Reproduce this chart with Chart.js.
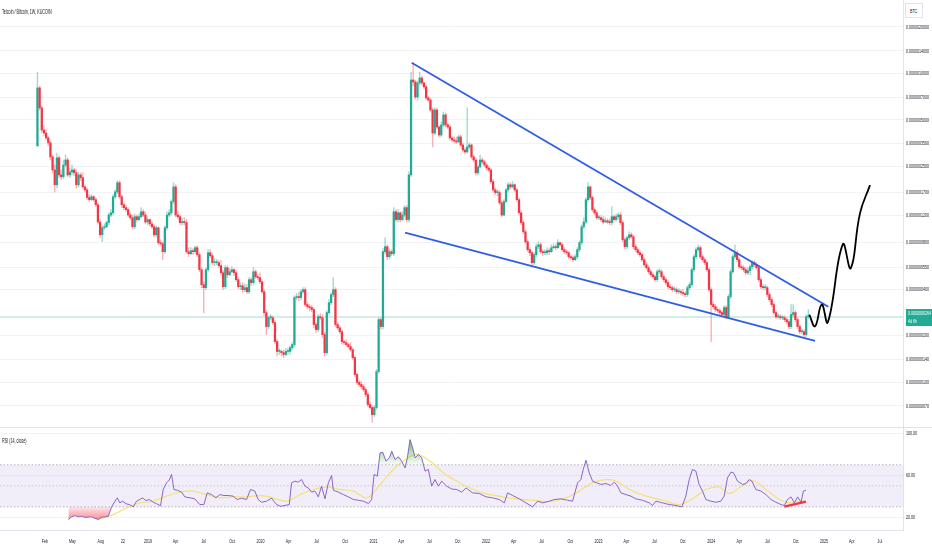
<!DOCTYPE html>
<html>
<head>
<meta charset="utf-8">
<title>Telcoin / Bitcoin, 1W, KUCOIN</title>
<script src="https://cdn.jsdelivr.net/npm/chart.js@4.4.1/dist/chart.umd.min.js"></script>
<style>
  html, body { margin: 0; padding: 0; background: #fff; }
  #wrap { position: relative; width: 932px; height: 550px; overflow: hidden;
          font-family: 'Liberation Sans', sans-serif; color: #131722; }
  #priceBox { position: absolute; left: 0; top: 0; width: 932px; height: 428px; }
  #rsiBox { position: absolute; left: 0; top: 428px; width: 932px; height: 122px; }
  #sep { position: absolute; left: 0; top: 427px; width: 932px; height: 1px; background: #e0e3eb; }
  .lbl { position: absolute; font-size: 6.5px; white-space: nowrap; transform: scaleX(0.57); transform-origin: 0 50%; }
  #btc { position: absolute; left: 905px; top: 3px; width: 16px; height: 13px; border: 1px solid #e0e3eb; background: #fff; }
  #btc span { position: absolute; left: 4px; top: 4px; font-size: 6px; line-height: 6px; transform: scaleX(0.6); transform-origin: 0 50%; }
</style>
</head>
<body>
<div id="wrap">
  <div id="priceBox"><canvas id="priceChart"></canvas></div>
  <div id="sep"></div>
  <div id="rsiBox"><canvas id="rsiChart"></canvas></div>
  <div class="lbl" style="left:2px;top:8px;">Telcoin / Bitcoin, 1W, KUCOIN</div>
  <div id="btc"><span>BTC</span></div>
  <div class="lbl" style="left:2px;top:437px;">RSI (14, close)</div>
</div>
<script>
// ---------- DATA ----------
// weekly candles, prices in satoshi (1e-8 BTC); open of each week = previous close
const firstWeek = '2018-01-08';
const firstOpenSats = 33.9;

const closeSats = [
  80.6, 59.8, 43.0, 41.1, 38.2, 35.5, 28.8, 23.7, 19.0, 28.4,
  22.0, 21.4, 25.5, 27.5, 22.0, 23.0, 23.7, 22.7, 19.0, 22.0,
  21.1, 18.4, 17.6, 15.7, 15.2, 15.9, 15.2, 14.1, 10.9, 9.01,
  10.0, 10.15, 10.8, 12.1, 12.5, 15.9, 17.1, 19.6, 15.9, 14.1,
  13.5, 13.1, 12.1, 11.6, 10.15, 11.8, 11.3, 11.8, 12.7, 12.1,
  10.9, 11.3, 10.6, 10.15, 9.01, 10.0, 8.00, 7.88, 7.00, 10.0,
  12.1, 12.5, 14.8, 18.4, 12.1, 11.8, 10.8, 10.9, 10.8, 7.00,
  6.79, 7.10, 7.00, 7.43, 6.69, 5.35, 4.28, 4.09, 5.35, 6.89,
  6.59, 5.94, 5.94, 5.94, 5.68, 5.11, 4.15, 5.51, 4.96, 5.19,
  5.35, 5.11, 4.61, 4.15, 4.21, 3.97, 4.09, 3.85, 4.61, 4.41,
  5.19, 4.82, 4.75, 4.47, 3.85, 2.82, 2.29, 2.61, 2.61, 2.43,
  1.83, 1.58, 1.58, 1.55, 1.51, 1.58, 1.58, 1.67, 1.75, 3.53,
  3.58, 3.53, 3.85, 3.97, 3.18, 3.08, 3.04, 2.95, 2.36, 2.19,
  2.65, 2.61, 2.03, 1.55, 2.82, 3.27, 3.69, 3.97, 2.36, 2.25,
  2.12, 1.83, 1.80, 1.75, 1.70, 1.62, 1.44, 1.12, 0.995, 0.965,
  0.935, 0.894, 0.830, 0.716, 0.684, 0.615, 0.684, 1.17, 2.54, 2.29,
  7.00, 7.54, 6.49, 7.00, 6.79, 12.7, 11.3, 12.5, 11.3, 12.1,
  13.5, 11.3, 22.0, 90.7, 88.1, 70.4, 86.8, 93.5, 86.8, 81.8,
  69.4, 67.3, 58.0, 41.1, 58.0, 45.0, 39.9, 46.4, 53.9, 46.4,
  45.0, 38.2, 37.1, 36.5, 36.0, 38.8, 34.4, 31.9, 31.0, 33.4,
  34.4, 28.8, 27.5, 22.7, 24.8, 27.5, 26.7, 25.5, 24.4, 23.7,
  19.9, 17.6, 16.9, 16.9, 14.5, 12.1, 14.8, 17.6, 19.0, 18.4,
  19.0, 17.6, 15.2, 12.5, 10.8, 9.42, 8.12, 7.21, 6.89, 5.94,
  6.69, 7.54, 7.76, 7.00, 6.89, 6.89, 7.10, 7.00, 7.43, 7.54,
  7.43, 8.00, 7.76, 7.21, 7.00, 6.89, 6.49, 6.40, 6.21, 6.49,
  7.21, 8.00, 10.15, 10.9, 15.2, 18.4, 15.7, 13.1, 12.5, 11.6,
  11.6, 11.3, 10.9, 11.1, 10.9, 10.8, 11.8, 11.3, 11.8, 12.1,
  10.8, 8.37, 7.54, 8.62, 9.01, 8.75, 7.54, 7.21, 6.89, 6.69,
  6.21, 5.76, 5.51, 5.19, 4.96, 4.82, 4.61, 5.19, 5.19, 4.82,
  4.61, 4.41, 4.15, 4.09, 3.97, 3.97, 3.85, 3.85, 3.80, 3.74,
  3.69, 4.09, 4.28, 5.35, 6.49, 7.21, 7.43, 6.49, 6.21, 5.94,
  5.35, 3.97, 3.18, 3.08, 2.95, 2.90, 2.82, 2.74, 3.04, 2.65,
  3.58, 5.19, 6.49, 6.89, 6.21, 5.59, 5.51, 5.35, 5.11, 5.27,
  5.59, 5.94, 5.76, 5.51, 4.61, 4.15, 4.09, 4.09, 3.69, 3.42,
  3.18, 2.82, 2.65, 2.65, 2.61, 2.61, 2.54, 2.46, 2.29, 2.74,
  2.82, 2.54, 2.29, 2.12, 2.12, 2.03, 2.65, 2.65
];

const highSats = [
  102, 83.0, 61.6, 45.7, 43.0, 39.3, 36.5, 29.6, 25.5, 30.5,
  29.2, 23.7, 27.5, 29.6, 28.4, 24.4, 25.5, 24.4, 23.7, 23.0,
  22.7, 22.7, 19.0, 18.1, 16.4, 16.4, 16.1, 15.7, 14.5, 11.3,
  10.3, 10.6, 11.1, 12.5, 13.1, 16.4, 17.6, 20.2, 20.2, 16.4,
  14.5, 14.1, 13.5, 12.5, 12.1, 12.3, 12.1, 12.3, 13.5, 13.1,
  12.7, 11.8, 11.4, 11.1, 10.45, 10.3, 10.15, 8.37, 8.12, 10.3,
  12.7, 13.1, 15.2, 19.6, 19.0, 12.7, 12.1, 11.6, 11.6, 11.3,
  7.43, 7.43, 7.32, 7.65, 7.65, 6.89, 5.51, 4.47, 5.51, 7.21,
  7.21, 6.79, 6.30, 6.21, 6.12, 6.12, 5.27, 5.68, 5.68, 5.43,
  5.59, 5.43, 5.27, 4.75, 4.41, 4.41, 4.34, 4.28, 4.75, 4.75,
  5.51, 5.35, 4.96, 5.11, 4.61, 3.97, 2.90, 2.69, 2.74, 2.69,
  2.50, 1.88, 1.65, 1.62, 1.62, 1.65, 1.67, 1.72, 1.80, 3.63,
  3.74, 3.80, 3.97, 4.09, 4.09, 3.27, 3.18, 3.13, 3.04, 2.43,
  2.74, 2.78, 2.74, 2.09, 2.90, 3.42, 3.80, 4.75, 4.09, 2.43,
  2.32, 2.19, 1.88, 1.88, 1.80, 1.80, 1.67, 1.48, 1.15, 1.02,
  1.01, 0.965, 0.921, 0.855, 0.741, 0.705, 0.705, 1.21, 2.61, 2.61,
  7.32, 8.62, 7.76, 7.32, 7.21, 13.5, 13.1, 13.1, 12.7, 12.7,
  13.9, 13.9, 23.0, 102, 116.9, 90.7, 89.4, 102, 96.3, 88.1,
  84.2, 71.5, 69.4, 59.8, 59.8, 59.8, 45.7, 48.6, 56.3, 55.5,
  47.9, 46.4, 39.3, 38.8, 38.8, 39.9, 39.9, 35.5, 32.9, 59.8,
  35.5, 35.0, 29.6, 28.4, 25.5, 29.6, 28.4, 27.5, 26.3, 25.2,
  24.4, 20.5, 18.1, 17.6, 17.4, 15.0, 15.2, 18.1, 19.6, 19.6,
  19.9, 19.3, 18.1, 15.7, 12.9, 11.1, 9.70, 8.37, 7.43, 7.10,
  6.89, 7.88, 8.12, 8.00, 7.21, 7.21, 7.43, 7.32, 7.76, 7.88,
  7.76, 8.37, 8.12, 8.00, 7.43, 7.21, 7.00, 6.69, 6.59, 6.69,
  7.43, 8.24, 10.45, 11.6, 15.7, 19.6, 18.7, 16.1, 13.5, 12.9,
  12.1, 12.0, 11.8, 11.6, 11.4, 11.4, 13.7, 12.1, 12.3, 12.5,
  12.5, 11.1, 8.62, 8.88, 9.42, 9.28, 9.01, 7.76, 7.43, 7.10,
  6.89, 6.40, 5.94, 5.68, 5.35, 5.11, 4.96, 5.35, 5.43, 5.35,
  4.96, 4.75, 4.54, 4.28, 4.21, 4.15, 4.09, 4.03, 3.97, 3.97,
  3.85, 4.21, 4.41, 5.51, 6.69, 7.43, 7.76, 7.65, 6.69, 6.40,
  6.12, 5.51, 4.09, 3.27, 3.18, 3.04, 2.99, 2.90, 3.13, 3.13,
  3.69, 5.35, 6.69, 7.76, 7.10, 6.40, 5.76, 5.68, 5.51, 5.51,
  5.76, 6.12, 6.12, 5.94, 5.68, 4.75, 4.28, 4.28, 4.21, 3.80,
  3.53, 3.27, 2.90, 2.78, 2.74, 2.69, 2.69, 2.61, 2.54, 3.18,
  3.18, 2.90, 2.61, 2.36, 2.22, 2.19, 2.74, 2.95
];

const lowSats = [
  33.9, 58.0, 41.1, 39.3, 37.1, 33.9, 27.5, 22.7, 17.1, 18.1,
  21.1, 20.5, 20.8, 24.8, 21.4, 21.1, 22.0, 21.7, 18.1, 18.4,
  20.2, 17.9, 17.1, 15.2, 14.8, 15.0, 14.8, 13.7, 10.6, 8.62,
  8.12, 9.70, 10.0, 10.45, 11.8, 12.1, 15.4, 16.6, 15.4, 13.5,
  13.1, 12.7, 11.8, 11.3, 9.85, 9.85, 10.9, 11.1, 11.6, 11.8,
  10.6, 10.45, 10.3, 9.85, 8.75, 8.75, 7.76, 7.65, 6.21, 6.79,
  9.70, 11.8, 12.1, 14.3, 11.8, 11.4, 10.45, 10.45, 10.45, 6.79,
  6.49, 6.69, 6.69, 6.79, 6.49, 5.19, 4.09, 2.82, 3.97, 5.19,
  6.40, 5.76, 5.68, 5.76, 5.51, 4.96, 3.97, 4.03, 4.75, 4.89,
  5.11, 4.89, 4.47, 4.03, 3.97, 3.80, 3.85, 3.74, 3.74, 4.21,
  4.28, 4.68, 4.61, 4.34, 3.74, 2.69, 2.03, 2.22, 2.54, 2.36,
  1.77, 1.48, 1.51, 1.48, 1.44, 1.48, 1.51, 1.51, 1.62, 1.70,
  3.42, 3.37, 3.42, 3.74, 3.08, 2.99, 2.90, 2.86, 2.25, 2.09,
  2.12, 2.54, 1.94, 1.48, 1.51, 2.74, 3.18, 3.58, 2.29, 2.19,
  2.06, 1.77, 1.75, 1.70, 1.65, 1.58, 1.40, 1.085, 0.965, 0.935,
  0.907, 0.868, 0.805, 0.694, 0.664, 0.547, 0.598, 0.664, 1.14, 2.19,
  2.22, 6.79, 6.21, 6.30, 6.59, 6.59, 10.9, 10.9, 10.9, 11.1,
  11.8, 10.9, 10.9, 21.4, 83.0, 68.4, 67.3, 84.2, 84.2, 79.4,
  67.3, 65.4, 56.3, 33.4, 39.9, 43.7, 38.8, 38.8, 45.0, 45.0,
  43.7, 37.1, 36.0, 35.5, 35.0, 35.5, 33.4, 31.0, 30.1, 30.5,
  32.4, 27.9, 26.7, 22.0, 22.0, 24.4, 25.9, 24.8, 23.7, 23.0,
  19.3, 17.1, 16.4, 16.1, 14.1, 11.8, 12.0, 14.5, 17.1, 17.9,
  18.1, 17.1, 14.8, 12.1, 10.45, 9.14, 7.88, 7.00, 6.59, 5.76,
  5.76, 6.49, 7.32, 6.79, 6.59, 6.69, 6.69, 6.69, 6.89, 7.32,
  7.21, 7.32, 7.54, 7.00, 6.79, 6.69, 6.30, 6.21, 6.03, 6.12,
  6.30, 7.00, 7.76, 9.85, 10.6, 14.8, 15.2, 12.7, 12.1, 11.3,
  11.3, 10.9, 10.6, 10.8, 10.6, 10.45, 10.45, 10.9, 11.1, 11.4,
  10.45, 8.12, 7.32, 7.32, 8.37, 8.50, 7.32, 7.00, 6.69, 6.49,
  6.03, 5.59, 5.35, 5.04, 4.82, 4.68, 4.47, 4.47, 5.04, 4.68,
  4.47, 4.28, 4.03, 3.97, 3.85, 3.85, 3.74, 3.74, 3.69, 3.63,
  3.58, 3.58, 3.97, 4.15, 5.19, 6.30, 7.00, 6.30, 6.03, 5.76,
  5.19, 3.85, 1.83, 2.99, 2.86, 2.82, 2.74, 2.65, 2.65, 2.58,
  2.58, 3.47, 5.04, 6.30, 6.03, 5.43, 5.35, 5.19, 4.96, 4.96,
  4.96, 5.43, 5.59, 5.35, 4.47, 4.03, 3.97, 3.97, 3.58, 3.32,
  3.08, 2.74, 2.58, 2.58, 2.54, 2.54, 2.46, 2.39, 2.22, 2.22,
  2.65, 2.46, 2.22, 2.06, 2.06, 1.97, 1.97, 2.58
];

const lastPriceSats = 2.64;
const countdownText = '4d 6h';

// drawings on the price pane (decimal year, satoshi)
const upperLineYears = [2021.340, 2025.038];
const upperLineSats  = [117.4, 3.08];
const lowerLineYears = [2021.281, 2024.920];
const lowerLineSats  = [9.29, 1.85];
const forecastYears = [2024.869, 2024.920, 2024.979, 2025.033, 2025.166, 2025.237, 2025.319, 2025.408];
const forecastSats  = [2.74, 2.30, 3.18, 2.44, 7.81, 5.46, 12.4, 18.9];

// price axis ticks (satoshi)
const priceTickSats = [200, 140, 100, 70, 50, 35, 25, 17, 12, 8, 5.5, 4, 2, 1.4, 1, 0.7];
const priceRangeSats = [0.504, 299.2];

// RSI (14, close)
const rsiYears = [
  2018.293, 2018.322, 2018.352, 2018.382, 2018.411, 2018.441, 2018.470, 2018.500, 2018.530, 2018.559,
  2018.589, 2018.618, 2018.648, 2018.678, 2018.707, 2018.728, 2018.751, 2018.775, 2018.805, 2018.840,
  2018.870, 2018.899, 2018.929, 2018.953, 2018.982, 2019.012, 2019.047, 2019.077, 2019.112, 2019.136,
  2019.166, 2019.189, 2019.210, 2019.231, 2019.260, 2019.299, 2019.328, 2019.373, 2019.417, 2019.461,
  2019.497, 2019.527, 2019.565, 2019.604, 2019.639, 2019.675, 2019.713, 2019.757, 2019.793, 2019.831,
  2019.876, 2019.911, 2019.950, 2019.979, 2020.009, 2020.053, 2020.098, 2020.142, 2020.178, 2020.216,
  2020.255, 2020.275, 2020.305, 2020.334, 2020.364, 2020.394, 2020.423, 2020.453, 2020.482, 2020.512,
  2020.541, 2020.571, 2020.601, 2020.630, 2020.645, 2020.689, 2020.734, 2020.778, 2020.822, 2020.867,
  2020.911, 2020.956, 2020.985, 2021.006, 2021.035, 2021.059, 2021.083, 2021.112, 2021.142, 2021.163,
  2021.192, 2021.222, 2021.251, 2021.281, 2021.302, 2021.325, 2021.349, 2021.370, 2021.400, 2021.429,
  2021.459, 2021.488, 2021.518, 2021.547, 2021.577, 2021.607, 2021.651, 2021.695, 2021.740, 2021.784,
  2021.823, 2021.882, 2021.941, 2022.000, 2022.059, 2022.118, 2022.163, 2022.192, 2022.237, 2022.296,
  2022.355, 2022.414, 2022.459, 2022.503, 2022.562, 2022.606, 2022.666, 2022.725, 2022.769, 2022.814,
  2022.843, 2022.864, 2022.888, 2022.917, 2022.947, 2022.982, 2023.021, 2023.065, 2023.109, 2023.139,
  2023.169, 2023.198, 2023.243, 2023.287, 2023.331, 2023.390, 2023.450, 2023.479, 2023.509, 2023.568,
  2023.627, 2023.686, 2023.740, 2023.775, 2023.805, 2023.834, 2023.864, 2023.893, 2023.923, 2023.953,
  2023.997, 2024.041, 2024.086, 2024.115, 2024.145, 2024.175, 2024.198, 2024.234, 2024.278, 2024.308,
  2024.337, 2024.361, 2024.396, 2024.441, 2024.485, 2024.530, 2024.574, 2024.618, 2024.648, 2024.677,
  2024.707, 2024.737, 2024.766, 2024.796, 2024.817, 2024.840
];
const rsiValues = [
  18, 20.5, 21.7, 20.5, 21, 20, 20.3, 20.5, 19, 18,
  20, 20.5, 21, 30, 35.4, 38.6, 33.8, 35.4, 33, 32,
  30, 35.4, 37, 38.6, 36, 37, 34.4, 33, 31, 46.5,
  52.9, 55.4, 60.8, 46.5, 45.9, 44, 39.5, 38.6, 37.6, 32.2,
  32.2, 43.3, 41.7, 38.6, 41.7, 40.8, 40.8, 40.2, 37, 38.3,
  37, 46.5, 45, 37, 34.4, 35.4, 38.3, 32.2, 30.6, 31.3,
  32.2, 52.9, 54.4, 53.5, 56, 49.7, 48, 44, 45, 39.5,
  49.7, 37.6, 52.9, 59.8, 45.9, 44, 41.7, 39.5, 37, 36.3,
  35.4, 33.2, 37, 60.8, 59.2, 81.4, 82, 73.5, 76.7, 83,
  75, 77.6, 73.5, 67, 76.7, 94, 86, 76.7, 79.8, 76.7,
  64, 65.6, 49.7, 56, 49.7, 54.4, 49.7, 47, 46.5, 44,
  48, 43.3, 42.7, 39.5, 38.6, 37, 33.8, 43.3, 40.8, 37.6,
  33.8, 30, 35.4, 33.8, 35.4, 37, 37.6, 36.3, 35.4, 52.9,
  56, 65.6, 74.4, 62.4, 54.4, 52.9, 51.3, 52.2, 50.3, 53.5,
  49.7, 43.3, 41.7, 40.2, 37.6, 36.3, 33.8, 31.3, 35.4, 33.8,
  32.2, 31.3, 30, 40.2, 56, 65.6, 64, 51.3, 45, 37,
  35.4, 34.4, 35.4, 40.2, 57.6, 63, 62.4, 54.4, 51.3, 52.2,
  56, 54.4, 46.5, 45, 41.7, 37, 34.4, 32.2, 31.3, 37,
  39.5, 33.8, 39.5, 34.4, 45, 45.9
];

// RSI-based MA
const maYears = [
  2018.574, 2018.692, 2018.811, 2018.929, 2019.047, 2019.166, 2019.284, 2019.402, 2019.521, 2019.639,
  2019.757, 2019.876, 2019.994, 2020.112, 2020.231, 2020.349, 2020.467, 2020.586, 2020.704, 2020.822,
  2020.941, 2021.059, 2021.178, 2021.296, 2021.385, 2021.503, 2021.621, 2021.740, 2021.823, 2021.970,
  2022.118, 2022.266, 2022.414, 2022.562, 2022.710, 2022.828, 2022.947, 2023.065, 2023.154, 2023.302,
  2023.450, 2023.598, 2023.716, 2023.834, 2023.953, 2024.071, 2024.160, 2024.278, 2024.367, 2024.485,
  2024.604, 2024.692, 2024.781, 2024.840
];
const maValues = [
  18.6, 22.7, 29, 33.8, 35.4, 40.2, 44, 45, 41.7, 38.6,
  39.5, 39.5, 40.8, 38.6, 35.4, 41.7, 46.5, 48.7, 46.5, 45,
  38.6, 51.3, 65.6, 75.7, 79.8, 73.5, 62.4, 54.4, 49.7, 43.3,
  40.2, 37.6, 36.3, 35, 38.6, 45, 52.9, 56, 54.4, 45,
  39.5, 35.4, 32.2, 37.6, 46.5, 48.7, 42.7, 50.3, 55, 46.5,
  37, 33.8, 35.4, 35.4
];

const rsiTrendYears = [2024.648, 2024.840];
const rsiTrendValues = [30.2, 35];
const rsiLevels = [70, 50, 30];
const rsiTicks = [20, 60, 100];
const rsiRange = [8, 105];

// time axis
const xRangeYears = [2017.6864, 2025.701];
const tickDates = [
  '2018-02-01', '2018-05-01', '2018-08-01', '2018-10-12', '2019-01-01', '2019-04-01', '2019-07-01', '2019-10-01',
  '2020-01-01', '2020-04-01', '2020-07-01', '2020-10-01', '2021-01-01', '2021-04-01', '2021-07-01', '2021-10-01',
  '2022-01-01', '2022-04-01', '2022-07-01', '2022-10-01', '2023-01-01', '2023-04-01', '2023-07-01', '2023-10-01',
  '2024-01-01', '2024-04-01', '2024-07-01', '2024-10-01', '2025-01-01', '2025-04-01', '2025-07-01'
];
const tickLabels = [
  'Feb', 'May', 'Aug', '22', '2019', 'Apr', 'Jul', 'Oct',
  '2020', 'Apr', 'Jul', 'Oct', '2021', 'Apr', 'Jul', 'Oct',
  '2022', 'Apr', 'Jul', 'Oct', '2023', 'Apr', 'Jul', 'Oct',
  '2024', 'Apr', 'Jul', 'Oct', '2025', 'Apr', 'Jul'
];

// ---------- HELPERS ----------
const SAT = 1e-8;
const DAY = 86400000;
const AXIS_W = 29;
const TEXT_SQUEEZE = 0.6;

function yearToMs(y) {
  const yr = Math.floor(y);
  const a = Date.UTC(yr, 0, 1), b = Date.UTC(yr + 1, 0, 1);
  return a + (y - yr) * (b - a);
}
function pairs(xs, ys, fx, fy) {
  return xs.map((x, i) => ({ x: fx(x), y: fy(ys[i]) }));
}
const xMin = yearToMs(xRangeYears[0]);
const xMax = yearToMs(xRangeYears[1]);

Chart.defaults.font.family = "'Liberation Sans', sans-serif";
Chart.defaults.font.size = 6;
Chart.defaults.color = '#131722';
Chart.defaults.animation = false;
Chart.defaults.elements.point.radius = 0;
Chart.defaults.elements.point.hoverRadius = 0;

// the screenshot text is narrow: squeeze every label horizontally around its anchor
const squeezeText = {
  id: 'squeezeText',
  beforeInit(chart) {
    const ctx = chart.ctx;
    const fill = ctx.fillText.bind(ctx);
    ctx.fillText = function (text, x, y, maxWidth) {
      ctx.save();
      ctx.translate(x, y);
      ctx.scale(TEXT_SQUEEZE, 1);
      fill(text, 0, 0);
      ctx.restore();
    };
  }
};
// keep the plot area edge to edge: no extra room for the end tick labels
function fitAxis(s, size) {
  if (s.isHorizontal()) { s.height = size; s.paddingLeft = 0; s.paddingRight = 0; }
  else { s.width = size; s.paddingTop = 0; s.paddingBottom = 0; }
}

// ---------- CANDLES ----------
const n = Math.min(closeSats.length, highSats.length, lowSats.length);
const t0 = Date.parse(firstWeek + 'T00:00:00Z');
const wickData = [], bodyData = [], bodyColors = [], wickColors = [];
for (let i = 0; i < n; i++) {
  const o = i === 0 ? firstOpenSats : closeSats[i - 1];
  const c = closeSats[i];
  const x = t0 + i * 7 * DAY;
  const up = c >= o;
  bodyData.push({ x: x, y: [Math.min(o, c) * SAT, Math.max(o, c) * SAT] });
  wickData.push({ x: x, y: [Math.min(lowSats[i], o, c) * SAT, Math.max(highSats[i], o, c) * SAT] });
  bodyColors.push(up ? '#22ab94' : '#f23645');
  wickColors.push(up ? 'rgba(34,171,148,0.45)' : 'rgba(242,54,69,0.4)');
}

// ---------- PRICE CHART ----------
const priceBadge = {
  id: 'priceBadge',
  afterDraw(chart) {
    const { ctx, chartArea } = chart;
    const y = chart.scales.y.getPixelForValue(lastPriceSats * SAT);
    ctx.save();
    ctx.fillStyle = '#22ab94';
    ctx.fillRect(chartArea.right + 3, y - 8, chart.width - chartArea.right - 3, 17);
    ctx.fillStyle = '#ffffff';
    ctx.font = "6px 'Liberation Sans', sans-serif";
    ctx.textBaseline = 'middle';
    ctx.fillText((lastPriceSats * SAT).toFixed(10), chartArea.right + 5, y - 3.5);
    ctx.fillText(countdownText, chartArea.right + 5, y + 4.5);
    ctx.restore();
  }
};

new Chart(document.getElementById('priceChart'), {
  type: 'bar',
  data: {
    datasets: [
      {
        type: 'line', order: 10,
        data: [{ x: xMin, y: lastPriceSats * SAT }, { x: xMax, y: lastPriceSats * SAT }],
        borderColor: 'rgba(34,171,148,0.5)', borderWidth: 0.8
      },
      {
        label: 'wicks', order: 6, grouped: false,
        data: wickData, backgroundColor: wickColors, barThickness: 0.7, borderWidth: 0
      },
      {
        label: 'bodies', order: 5, grouped: false,
        data: bodyData, backgroundColor: bodyColors, barThickness: 1.6, minBarLength: 1, borderWidth: 0
      },
      {
        type: 'line', order: 2,
        data: pairs(upperLineYears, upperLineSats, yearToMs, v => v * SAT),
        borderColor: '#2f5de6', borderWidth: 1.8
      },
      {
        type: 'line', order: 2,
        data: pairs(lowerLineYears, lowerLineSats, yearToMs, v => v * SAT),
        borderColor: '#2f5de6', borderWidth: 1.8
      },
      {
        type: 'line', order: 1,
        data: pairs(forecastYears, forecastSats, yearToMs, v => v * SAT),
        borderColor: '#000000', borderWidth: 1.8, tension: 0.45
      }
    ]
  },
  options: {
    responsive: true,
    maintainAspectRatio: false,
    layout: { padding: 0 },
    plugins: { legend: { display: false }, tooltip: { enabled: false } },
    scales: {
      x: {
        type: 'linear', min: xMin, max: xMax, offset: false, display: false,
        grid: { offset: false }
      },
      y: {
        type: 'logarithmic', position: 'right', bounds: 'data',
        min: priceRangeSats[0] * SAT, max: priceRangeSats[1] * SAT,
        afterBuildTicks: s => { s.ticks = priceTickSats.map(v => ({ value: v * SAT })); },
        afterFit: s => fitAxis(s, AXIS_W),
        ticks: { padding: 3, callback: v => Number(v).toFixed(10) },
        grid: { color: '#f0f2f6', drawTicks: false },
        border: { display: true, color: '#e0e3eb' }
      }
    }
  },
  plugins: [squeezeText, priceBadge]
});

// ---------- RSI CHART ----------
function overGradient(ctx) {
  const c = ctx.chart;
  if (!c.chartArea) return 'rgba(0,0,0,0)';
  const y = c.scales.y;
  const g = c.ctx.createLinearGradient(0, y.getPixelForValue(100), 0, y.getPixelForValue(70));
  g.addColorStop(0, 'rgba(60,160,70,0.95)');
  g.addColorStop(1, 'rgba(76,175,80,0.03)');
  return g;
}
function underGradient(ctx) {
  const c = ctx.chart;
  if (!c.chartArea) return 'rgba(0,0,0,0)';
  const y = c.scales.y;
  const g = c.ctx.createLinearGradient(0, y.getPixelForValue(30), 0, y.getPixelForValue(10));
  g.addColorStop(0, 'rgba(242,54,69,0.12)');
  g.addColorStop(1, 'rgba(242,54,69,0.85)');
  return g;
}
const levelLine = v => [{ x: xMin, y: v }, { x: xMax, y: v }];
const rsiData = pairs(rsiYears, rsiValues, yearToMs, v => v);
const tickMs = tickDates.map(d => Date.parse(d + 'T00:00:00Z'));

new Chart(document.getElementById('rsiChart'), {
  type: 'line',
  data: {
    datasets: [
      {
        order: 9, data: levelLine(rsiLevels[0]),
        borderColor: '#9598a1', borderWidth: 0.7, borderDash: [1.5, 2],
        fill: 2, backgroundColor: 'rgba(126,87,194,0.1)'
      },
      {
        order: 9, data: levelLine(rsiLevels[1]),
        borderColor: 'rgba(149,152,161,0.6)', borderWidth: 0.7, borderDash: [1.5, 2], fill: false
      },
      {
        order: 9, data: levelLine(rsiLevels[2]),
        borderColor: '#9598a1', borderWidth: 0.7, borderDash: [1.5, 2], fill: false
      },
      {
        order: 1, data: rsiData,
        borderColor: '#7e57c2', borderWidth: 0.9,
        backgroundColor: overGradient,
        fill: { target: { value: 70 }, below: 'rgba(0,0,0,0)' }
      },
      {
        order: 3, data: rsiData,
        borderWidth: 0, borderColor: 'rgba(0,0,0,0)',
        backgroundColor: underGradient,
        fill: { target: { value: 30 }, above: 'rgba(0,0,0,0)' }
      },
      {
        order: 2, data: pairs(maYears, maValues, yearToMs, v => v),
        borderColor: 'rgba(245,222,100,0.8)', borderWidth: 1.3, tension: 0.4, fill: false
      },
      {
        order: 0, data: pairs(rsiTrendYears, rsiTrendValues, yearToMs, v => v),
        borderColor: '#f23645', borderWidth: 2.4, fill: false
      }
    ]
  },
  options: {
    responsive: true,
    maintainAspectRatio: false,
    layout: { padding: 0 },
    plugins: { legend: { display: false }, tooltip: { enabled: false } },
    scales: {
      x: {
        type: 'linear', min: xMin, max: xMax, offset: false,
        afterBuildTicks: s => { s.ticks = tickMs.map(v => ({ value: v })); },
        afterFit: s => fitAxis(s, 20),
        ticks: { autoSkip: false, maxRotation: 0, padding: 8, callback: (v, i) => tickLabels[i] },
        grid: { display: false, drawTicks: false },
        border: { display: true, color: '#e0e3eb' }
      },
      y: {
        type: 'linear', position: 'right', min: rsiRange[0], max: rsiRange[1],
        afterBuildTicks: s => { s.ticks = rsiTicks.map(v => ({ value: v })); },
        afterFit: s => fitAxis(s, AXIS_W),
        ticks: { padding: 3, callback: v => Number(v).toFixed(2) },
        grid: { color: '#f0f2f6', drawTicks: false },
        border: { display: true, color: '#e0e3eb' }
      }
    }
  },
  plugins: [squeezeText]
});
</script>
</body>
</html>
